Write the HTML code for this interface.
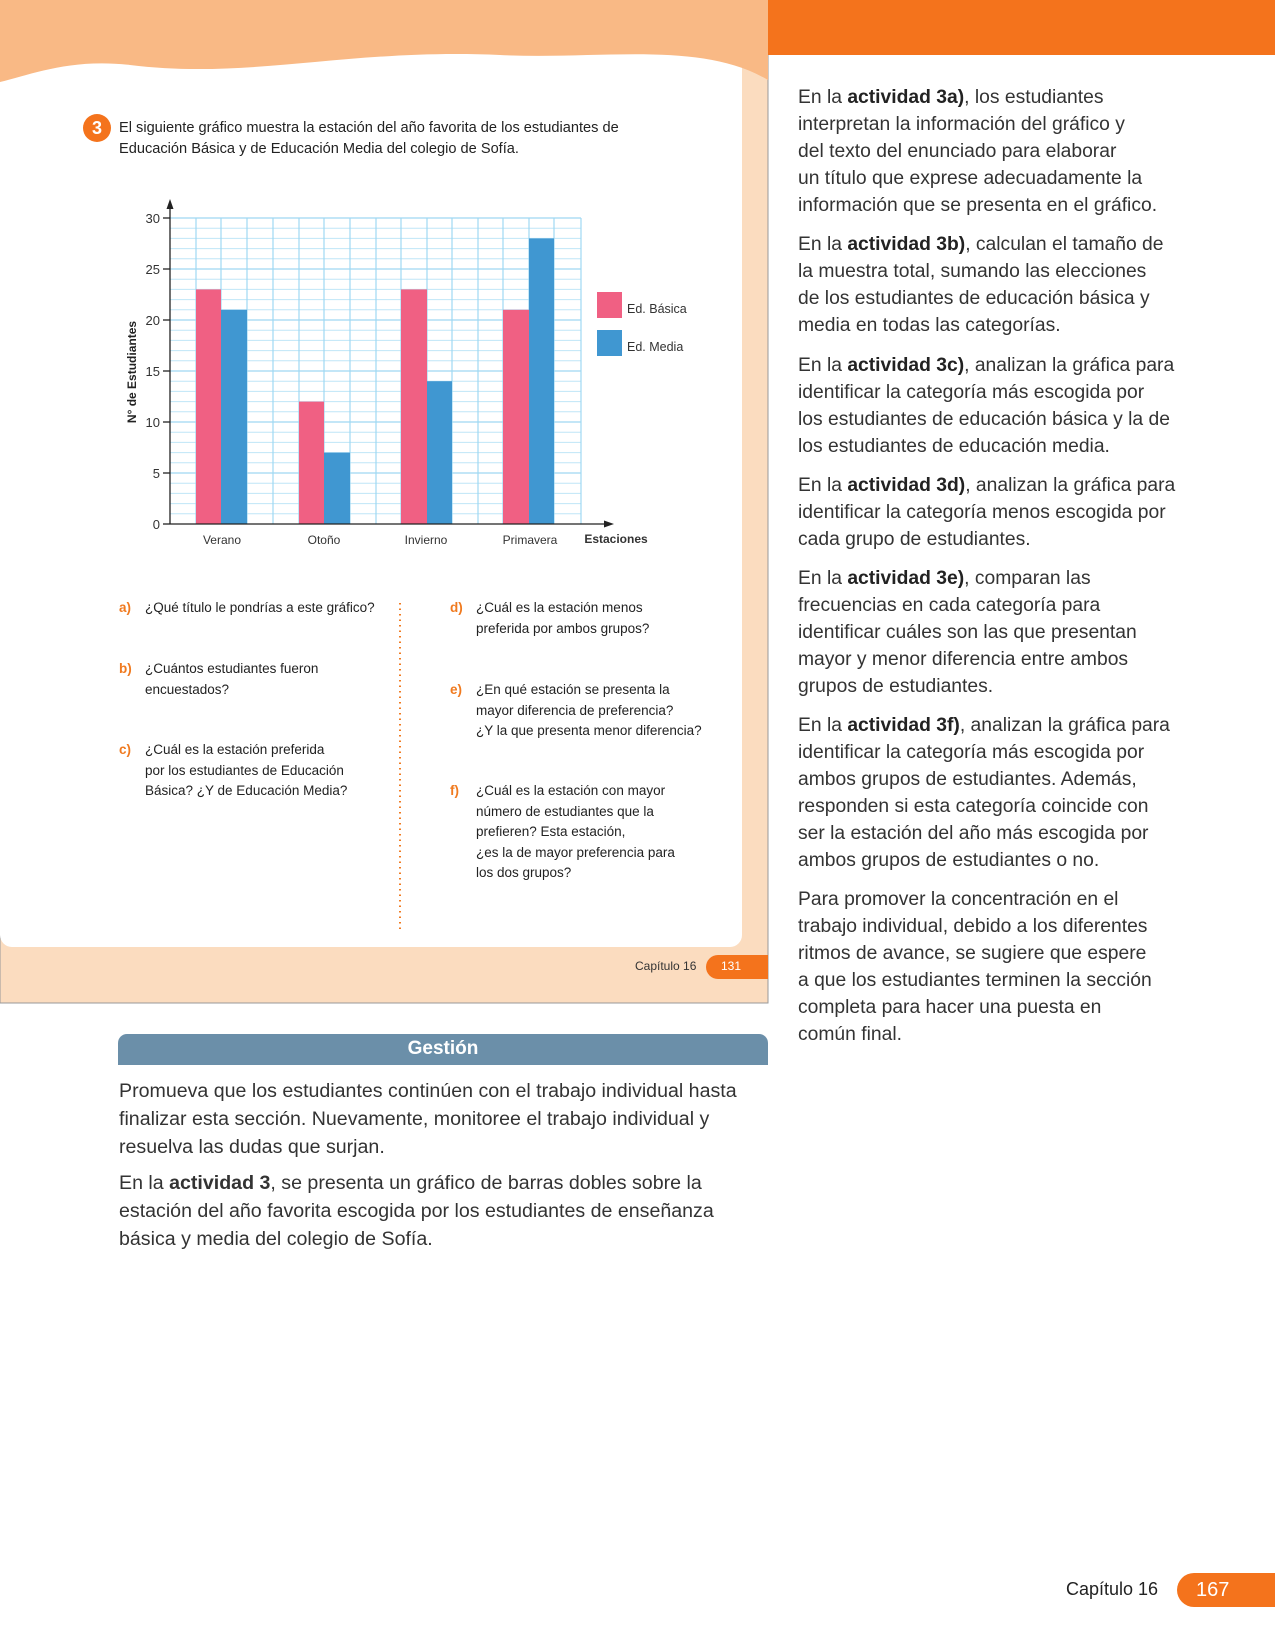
<!DOCTYPE html>
<html><head><meta charset="utf-8"><style>
body{margin:0;width:1275px;height:1650px;position:relative;background:#fff;font-family:"Liberation Sans",sans-serif;overflow:hidden}
.a{position:absolute;white-space:nowrap}
.q{position:absolute;font-size:13.5px;line-height:20.5px;color:#222;white-space:nowrap}
.q b{color:#f07a1f;position:absolute;left:-26px}
.r{position:absolute;left:798px;font-size:19.3px;line-height:27.1px;color:#333;white-space:nowrap}
.r b{font-weight:700;color:#222}
.l{position:absolute;left:119px;font-size:19.6px;line-height:28px;color:#333;white-space:nowrap}
</style></head><body>
<svg class="a" style="left:0;top:0" width="1275" height="1650">
<rect x="0" y="0" width="768" height="1003" fill="#fbdcbf" stroke="#999" stroke-width="1"/>
<rect x="0" y="0" width="742" height="947" rx="12" fill="#fff"/>
<path d="M0 0H768V80C700 40 600 60 500 55C350 48 250 80 130 65C70 58 30 75 0 82Z" fill="#f9b985"/>
<rect x="768" y="0" width="507" height="55" fill="#f4731c"/>
<path d="M718 955H768V979H718A12 12 0 0 1 718 955Z" fill="#f4731c"/>
<path d="M1194 1573H1275V1607H1194A17 17 0 0 1 1194 1573Z" fill="#f4731c"/>
<rect x="118" y="1034" width="650" height="31" rx="9" fill="#6b8fa9"/>
<rect x="118" y="1050" width="650" height="15" fill="#6b8fa9"/>
<line x1="400" y1="603" x2="400" y2="931" stroke="#f07a1f" stroke-width="2" stroke-dasharray="1.5 4"/>
<circle cx="97" cy="128" r="14" fill="#f4731c"/>
<g stroke="#bfe6f7" stroke-width="1">
<line x1="170" y1="228.2" x2="581" y2="228.2"/><line x1="170" y1="238.4" x2="581" y2="238.4"/><line x1="170" y1="248.6" x2="581" y2="248.6"/><line x1="170" y1="258.8" x2="581" y2="258.8"/><line x1="170" y1="279.2" x2="581" y2="279.2"/><line x1="170" y1="289.4" x2="581" y2="289.4"/><line x1="170" y1="299.6" x2="581" y2="299.6"/><line x1="170" y1="309.8" x2="581" y2="309.8"/><line x1="170" y1="330.2" x2="581" y2="330.2"/><line x1="170" y1="340.4" x2="581" y2="340.4"/><line x1="170" y1="350.6" x2="581" y2="350.6"/><line x1="170" y1="360.8" x2="581" y2="360.8"/><line x1="170" y1="381.2" x2="581" y2="381.2"/><line x1="170" y1="391.4" x2="581" y2="391.4"/><line x1="170" y1="401.6" x2="581" y2="401.6"/><line x1="170" y1="411.8" x2="581" y2="411.8"/><line x1="170" y1="432.2" x2="581" y2="432.2"/><line x1="170" y1="442.4" x2="581" y2="442.4"/><line x1="170" y1="452.6" x2="581" y2="452.6"/><line x1="170" y1="462.8" x2="581" y2="462.8"/><line x1="170" y1="483.2" x2="581" y2="483.2"/><line x1="170" y1="493.4" x2="581" y2="493.4"/><line x1="170" y1="503.6" x2="581" y2="503.6"/><line x1="170" y1="513.8" x2="581" y2="513.8"/>
</g>
<g stroke="#9fd8f2" stroke-width="1.2">
<line x1="170" y1="218" x2="581" y2="218"/><line x1="170" y1="269" x2="581" y2="269"/><line x1="170" y1="320" x2="581" y2="320"/><line x1="170" y1="371" x2="581" y2="371"/><line x1="170" y1="422" x2="581" y2="422"/><line x1="170" y1="473" x2="581" y2="473"/>
<line x1="196" y1="218" x2="196" y2="524"/><line x1="221" y1="218" x2="221" y2="524"/><line x1="247" y1="218" x2="247" y2="524"/><line x1="273" y1="218" x2="273" y2="524"/><line x1="299" y1="218" x2="299" y2="524"/><line x1="324" y1="218" x2="324" y2="524"/><line x1="350" y1="218" x2="350" y2="524"/><line x1="376" y1="218" x2="376" y2="524"/><line x1="401" y1="218" x2="401" y2="524"/><line x1="427" y1="218" x2="427" y2="524"/><line x1="452" y1="218" x2="452" y2="524"/><line x1="478" y1="218" x2="478" y2="524"/><line x1="503" y1="218" x2="503" y2="524"/><line x1="529" y1="218" x2="529" y2="524"/><line x1="554" y1="218" x2="554" y2="524"/><line x1="581" y1="218" x2="581" y2="524"/>
</g>
<g fill="#f06083">
<rect x="196" y="289.4" width="25" height="234.6"/><rect x="299" y="401.6" width="25" height="122.4"/><rect x="401" y="289.4" width="26" height="234.6"/><rect x="503" y="309.8" width="26" height="214.2"/>
<rect x="597" y="292" width="25" height="26"/>
</g>
<g fill="#4097d1">
<rect x="221" y="309.8" width="26" height="214.2"/><rect x="324" y="452.6" width="26" height="71.4"/><rect x="427" y="381.2" width="25" height="142.8"/><rect x="529" y="238.4" width="25" height="285.6"/>
<rect x="597" y="330" width="25" height="26"/>
</g>
<g stroke="#222" stroke-width="1.3">
<line x1="170" y1="524" x2="606" y2="524"/><line x1="170" y1="524" x2="170" y2="204"/>
<line x1="163" y1="218" x2="170" y2="218"/><line x1="163" y1="269" x2="170" y2="269"/><line x1="163" y1="320" x2="170" y2="320"/><line x1="163" y1="371" x2="170" y2="371"/><line x1="163" y1="422" x2="170" y2="422"/><line x1="163" y1="473" x2="170" y2="473"/><line x1="163" y1="524" x2="170" y2="524"/>
</g>
<path d="M170 199L166.5 209H173.5Z M614 524L604 520.5V527.5Z" fill="#222"/>
<g font-size="13" fill="#333" text-anchor="end" font-family="Liberation Sans,sans-serif">
<text x="160" y="223">30</text><text x="160" y="274">25</text><text x="160" y="325">20</text><text x="160" y="376">15</text><text x="160" y="427">10</text><text x="160" y="478">5</text><text x="160" y="529">0</text>
</g>
<g font-size="12" fill="#333" text-anchor="middle" font-family="Liberation Sans,sans-serif">
<text x="222" y="544">Verano</text><text x="324" y="544">Otoño</text><text x="426" y="544">Invierno</text><text x="530" y="544">Primavera</text>
<text x="616" y="543" font-weight="bold">Estaciones</text>
</g>
<text x="136" y="372" transform="rotate(-90 136 372)" text-anchor="middle" font-size="12" font-weight="bold" fill="#222" font-family="Liberation Sans,sans-serif">N° de Estudiantes</text>
<text x="627" y="313" font-size="12.5" fill="#333" font-family="Liberation Sans,sans-serif">Ed. Básica</text>
<text x="627" y="351" font-size="12.5" fill="#333" font-family="Liberation Sans,sans-serif">Ed. Media</text>
</svg>
<div class="a" style="left:88px;top:118px;color:#fff;font-weight:bold;font-size:18px;width:18px;text-align:center">3</div>
<div class="a" style="left:119px;top:118px;font-size:14.6px;line-height:21px;color:#222">El siguiente gráfico muestra la estación del año favorita de los estudiantes de<br>Educación Básica y de Educación Media del colegio de Sofía.</div>
<div class="q" style="left:145px;top:598px"><b>a)</b>¿Qué título le pondrías a este gráfico?</div>
<div class="q" style="left:145px;top:659px"><b>b)</b>¿Cuántos estudiantes fueron<br>encuestados?</div>
<div class="q" style="left:145px;top:740px"><b>c)</b>¿Cuál es la estación preferida<br>por los estudiantes de Educación<br>Básica? ¿Y de Educación Media?</div>
<div class="q" style="left:476px;top:598px"><b>d)</b>¿Cuál es la estación menos<br>preferida por ambos grupos?</div>
<div class="q" style="left:476px;top:680px"><b>e)</b>¿En qué estación se presenta la<br>mayor diferencia de preferencia?<br>¿Y la que presenta menor diferencia?</div>
<div class="q" style="left:476px;top:781px"><b>f)</b>¿Cuál es la estación con mayor<br>número de estudiantes que la<br>prefieren? Esta estación,<br>¿es la de mayor preferencia para<br>los dos grupos?</div>
<div class="a" style="left:635px;top:959px;font-size:12px;color:#333">Capítulo 16</div>
<div class="a" style="left:721px;top:959px;font-size:12px;color:#fff">131</div>
<div class="a" style="left:118px;top:1038px;width:650px;text-align:center;font-size:19px;color:#fff;font-weight:bold">Gestión</div>
<div class="l" style="top:1077px">Promueva que los estudiantes continúen con el trabajo individual hasta<br>finalizar esta sección. Nuevamente, monitoree el trabajo individual y<br>resuelva las dudas que surjan.</div>
<div class="l" style="top:1169px">En la <b>actividad 3</b>, se presenta un gráfico de barras dobles sobre la<br>estación del año favorita escogida por los estudiantes de enseñanza<br>básica y media del colegio de Sofía.</div>
<div class="r" style="top:84px">En la <b>actividad 3a)</b>, los estudiantes<br>interpretan la información del gráfico y<br>del texto del enunciado para elaborar<br>un título que exprese adecuadamente la<br>información que se presenta en el gráfico.</div>
<div class="r" style="top:231px">En la <b>actividad 3b)</b>, calculan el tamaño de<br>la muestra total, sumando las elecciones<br>de los estudiantes de educación básica y<br>media en todas las categorías.</div>
<div class="r" style="top:352px">En la <b>actividad 3c)</b>, analizan la gráfica para<br>identificar la categoría más escogida por<br>los estudiantes de educación básica y la de<br>los estudiantes de educación media.</div>
<div class="r" style="top:472px">En la <b>actividad 3d)</b>, analizan la gráfica para<br>identificar la categoría menos escogida por<br>cada grupo de estudiantes.</div>
<div class="r" style="top:565px">En la <b>actividad 3e)</b>, comparan las<br>frecuencias en cada categoría para<br>identificar cuáles son las que presentan<br>mayor y menor diferencia entre ambos<br>grupos de estudiantes.</div>
<div class="r" style="top:712px">En la <b>actividad 3f)</b>, analizan la gráfica para<br>identificar la categoría más escogida por<br>ambos grupos de estudiantes. Además,<br>responden si esta categoría coincide con<br>ser la estación del año más escogida por<br>ambos grupos de estudiantes o no.</div>
<div class="r" style="top:886px">Para promover la concentración en el<br>trabajo individual, debido a los diferentes<br>ritmos de avance, se sugiere que espere<br>a que los estudiantes terminen la sección<br>completa para hacer una puesta en<br>común final.</div>
<div class="a" style="left:1066px;top:1579px;font-size:18px;color:#222">Capítulo 16</div>
<div class="a" style="left:1196px;top:1579px;font-size:20px;color:#fff">167</div>
</body></html>
